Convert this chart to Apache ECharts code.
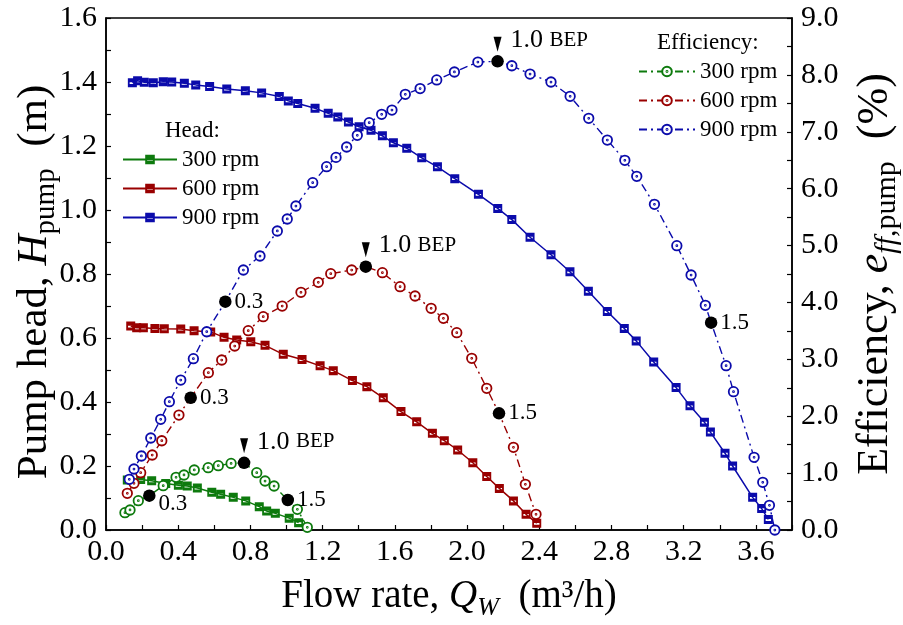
<!DOCTYPE html>
<html><head><meta charset="utf-8">
<script src="https://cdn.jsdelivr.net/npm/echarts@6/dist/echarts.min.js"></script>
<style>html,body{margin:0;padding:0;background:#fff}#c{width:903px;height:625px}</style>
</head><body><div id="c"></div>
<script>
// ---- Data ----
const q300H = [0.118,0.192,0.253,0.331,0.401,0.450,0.506,0.586,0.635,0.705,0.774,0.849,0.890,0.938,1.015,1.067];
const h300  = [0.156,0.158,0.154,0.145,0.140,0.1375,0.131,0.118,0.112,0.102,0.091,0.073,0.059,0.052,0.037,0.023];
const q600H = [0.137,0.170,0.207,0.271,0.323,0.414,0.488,0.580,0.654,0.724,0.802,0.881,0.982,1.086,1.186,1.259,1.365,1.445,1.536,1.634,1.721,1.808,1.874,1.948,2.032,2.109,2.179,2.257,2.327,2.386];
const h600  = [0.6375,0.632,0.632,0.630,0.629,0.628,0.623,0.619,0.602,0.594,0.588,0.577,0.549,0.533,0.513,0.498,0.467,0.448,0.413,0.370,0.338,0.302,0.279,0.250,0.210,0.167,0.130,0.091,0.049,0.021];
const q900H = [0.146,0.175,0.212,0.262,0.317,0.364,0.434,0.497,0.574,0.669,0.772,0.862,0.960,1.010,1.062,1.158,1.231,1.284,1.343,1.402,1.468,1.531,1.592,1.666,1.749,1.836,1.932,2.063,2.170,2.248,2.349,2.465,2.570,2.672,2.777,2.871,2.937,3.034,3.158,3.235,3.315,3.348,3.429,3.471,3.582,3.632,3.669];
const h900  = [1.398,1.404,1.399,1.398,1.401,1.400,1.396,1.391,1.386,1.378,1.373,1.366,1.355,1.341,1.333,1.318,1.302,1.291,1.275,1.260,1.249,1.232,1.210,1.193,1.163,1.135,1.098,1.049,1.005,0.970,0.915,0.860,0.807,0.746,0.683,0.630,0.591,0.525,0.445,0.388,0.337,0.306,0.240,0.200,0.102,0.067,0.033];

const q300E = [0.105,0.133,0.179,0.240,0.317,0.388,0.432,0.489,0.566,0.622,0.693,0.765,0.835,0.881,0.931,1.007,1.060,1.115];
const e300  = [0.304,0.352,0.515,0.603,0.779,0.926,0.967,1.055,1.095,1.130,1.170,1.180,1.007,0.861,0.773,0.527,0.364,0.047];
const q600E = [0.118,0.155,0.192,0.256,0.309,0.404,0.469,0.567,0.641,0.713,0.788,0.871,0.976,1.080,1.176,1.245,1.361,1.439,1.531,1.629,1.712,1.801,1.869,1.943,2.026,2.109,2.177,2.257,2.323,2.382];
const e600  = [0.645,0.821,1.007,1.318,1.569,2.021,2.325,2.765,2.988,3.234,3.503,3.749,3.937,4.178,4.353,4.505,4.570,4.629,4.523,4.277,4.113,3.897,3.721,3.468,3.018,2.491,2.051,1.454,0.803,0.276];
const q900E = [0.129,0.155,0.196,0.248,0.303,0.351,0.414,0.484,0.558,0.661,0.761,0.853,0.949,1.004,1.052,1.145,1.222,1.274,1.333,1.392,1.458,1.527,1.584,1.658,1.740,1.832,1.930,2.060,2.169,2.248,2.349,2.465,2.571,2.674,2.777,2.874,2.940,3.038,3.162,3.241,3.320,3.352,3.435,3.476,3.590,3.638,3.675,3.705];
const e900  = [0.891,1.072,1.301,1.617,1.945,2.255,2.636,3.011,3.485,4.013,4.570,4.816,5.256,5.467,5.695,6.105,6.387,6.550,6.732,6.938,7.160,7.306,7.382,7.658,7.760,7.911,8.051,8.226,8.238,8.161,8.015,7.875,7.623,7.236,6.855,6.498,6.217,5.725,4.998,4.482,3.950,3.644,2.888,2.431,1.278,0.838,0.434,0.0];

// key operating points (fraction of BEP flow)
const keyLabels = ['0.3','1.0 BEP','1.5'];
const keyQ300 = [0.240,0.765,1.007], keyE300 = [0.603,1.180,0.527];
const keyQ600 = [0.469,1.439,2.177], keyE600 = [2.325,4.629,2.051];
const keyQ900 = [0.661,2.169,3.352], keyE900 = [4.013,8.238,3.644];

const speeds = ['300','600','900'];
// ---- Build ----
const FONT = 'Liberation Serif';
const colors = {'300':'#0d7a0d','600':'#990000','900':'#0b0bab'};
const zip = (a,b) => a.map((v,i)=>[v,b[i]]);
const squareSym = 'path://M0,0H10V10H0Z M2,4.6V6.6H8V4.6Z';
const ringSym = 'path://M5,0A5,5 0 1,1 5,10A5,5 0 1,1 5,0Z M5,4.5A0.5,0.5 0 1,1 5,5.5A0.5,0.5 0 1,1 5,4.5Z';

const headData = {'300':zip(q300H,h300),'600':zip(q600H,h600),'900':zip(q900H,h900)};
const effData  = {'300':zip(q300E,e300),'600':zip(q600E,e600),'900':zip(q900E,e900)};
const keyData = [zip(keyQ300,keyE300), zip(keyQ600,keyE600), zip(keyQ900,keyE900)];

const series = [];
speeds.forEach(s=>{
  series.push({
    name:'H'+s, type:'line', xAxisIndex:0, yAxisIndex:0, data:headData[s],
    symbol:squareSym, symbolSize:9, showSymbol:true,
    itemStyle:{color:colors[s]},
    lineStyle:{color:colors[s], width:1.5},
    animation:false, z:3
  });
});
speeds.forEach(s=>{
  series.push({
    name:'E'+s, type:'line', xAxisIndex:0, yAxisIndex:1, data:effData[s],
    symbol:ringSym, symbolSize:9.5, showSymbol:true,
    itemStyle:{color:'#fff', borderColor:colors[s], borderWidth:1.8},
    lineStyle:{color:colors[s], width:1.4, type:[8,4,2,4]},
    animation:false, z:4
  });
});
// black dots with labels
const dotItems = [];
const bepItems = [];
keyData.forEach((arr,k)=>{
  arr.forEach((p,i)=>{
    const item = {value:p, name: i===1 ? '' : keyLabels[i]};
    if(k===0 && i===0) item.label = {offset:[0,8]};
    dotItems.push(item);
    if(i===1) bepItems.push({value:p, name:keyLabels[i]});
  });
});
series.push({
  name:'key', type:'scatter', xAxisIndex:0, yAxisIndex:1, data:dotItems,
  symbol:'circle', symbolSize:12.5, itemStyle:{color:'#000', opacity:1},
  label:{show:true, position:'right', distance:3, formatter:p=>p.name,
    fontFamily:FONT, fontSize:23, color:'#000'},
  animation:false, z:10, silent:true
});
series.push({
  name:'bep', type:'scatter', xAxisIndex:0, yAxisIndex:1, data:bepItems,
  symbol:'path://M0,0L10,0L5,18Z', symbolSize:[8,15], symbolOffset:[0,-17],
  itemStyle:{color:'#000', opacity:1},
  label:{show:true, position:'right', distance:9, offset:[0,-4],
    formatter:()=>'{a|1.0} {b|BEP}',
    rich:{a:{fontFamily:FONT, fontSize:26, color:'#000'}, b:{fontFamily:FONT, fontSize:21, color:'#000', padding:[0,0,0,3]}}},
  animation:false, z:10, silent:true
});

const tickLabel = {fontFamily:FONT, fontSize:30, color:'#000'};
const mkRich = (big, small) => ({
  n:{fontFamily:FONT, fontSize:big, color:'#000', lineHeight:big+10},
  i:{fontFamily:FONT, fontSize:big, fontStyle:'italic', color:'#000', lineHeight:big+10},
  s:{fontFamily:FONT, fontSize:small, color:'#000', lineHeight:small, verticalAlign:'bottom'},
  si:{fontFamily:FONT, fontSize:small, fontStyle:'italic', color:'#000', lineHeight:small, verticalAlign:'bottom'}
});

const option = {
  animation:false,
  backgroundColor:'#fff',
  grid:{left:106, right:111, top:18, bottom:95, containLabel:false, outerBoundsMode:'none',
    show:true, borderColor:'#000', borderWidth:1.5, backgroundColor:'transparent'},
  xAxis:[{
    type:'value', min:0, max:3.8, interval:0.2,
    axisLine:{show:true, onZero:false, lineStyle:{color:'#000', width:1.5}},
    axisTick:{show:true, inside:true, length:5, lineStyle:{color:'#000', width:1.2}},
    axisLabel:{...tickLabel, margin:7, formatter:v=>(Math.round(v*10)%4===0 ? v.toFixed(1) : '')},
    splitLine:{show:false},
    name:'{n|Flow rate, }{i|Q}{si|W}{n|  (m³/h)}', nameLocation:'middle', nameGap:42,
    nameTextStyle:{rich:mkRich(39,26)}
  }],
  yAxis:[{
    type:'value', min:0, max:1.6, interval:0.1, position:'left',
    axisLine:{show:true, onZero:false, lineStyle:{color:'#000', width:1.5}},
    axisTick:{show:true, inside:true, length:5, lineStyle:{color:'#000', width:1.2}},
    axisLabel:{...tickLabel, margin:9, formatter:v=>(Math.round(v*10)%2===0 ? v.toFixed(1) : '')},
    splitLine:{show:false},
    name:'{n|Pump head, }{i|H}{s|pump}{n|  (m)}', nameLocation:'middle', nameGap:45, nameRotate:90,
    nameMoveOverlap:false,
    nameTextStyle:{rich:mkRich(43,29), padding:[0,16,0,0]}
  },{
    type:'value', min:0, max:9, interval:0.5, position:'right',
    axisLine:{show:true, onZero:false, lineStyle:{color:'#000', width:1.5}},
    axisTick:{show:true, inside:true, length:5, lineStyle:{color:'#000', width:1.2}},
    axisLabel:{...tickLabel, margin:9, formatter:v=>(Math.abs(v-Math.round(v))<1e-6 ? v.toFixed(1) : '')},
    splitLine:{show:false},
    name:'{n|Efficiency, }{i|e}{si|ff}{s|,pump}{n|  (%)}', nameLocation:'middle', nameGap:56, nameRotate:90,
    nameTextStyle:{rich:mkRich(44,30)}
  }],
  legend:[{
    data:['H300','H600','H900'], orient:'vertical', left:122, top:148, padding:0,
    itemWidth:54, itemHeight:12, itemGap:6, selectedMode:false,
    formatter:n=>n.slice(1)+' rpm',
    textStyle:{fontFamily:FONT, fontSize:23, color:'#000'}
  },{
    data:['E300','E600','E900'], orient:'vertical', left:638, top:60, padding:0,
    itemWidth:56, itemHeight:12, itemGap:6, selectedMode:false,
    formatter:n=>n.slice(1)+' rpm',
    textStyle:{fontFamily:FONT, fontSize:23, color:'#000'}
  }],
  graphic:[
    {type:'text', left:165, top:119, style:{text:'Head:', font:'23px "Liberation Serif"', fill:'#000'}},
    {type:'text', left:657, top:31, style:{text:'Efficiency:', font:'23px "Liberation Serif"', fill:'#000'}}
  ],
  series
};
const chart = echarts.init(document.getElementById('c'), null, {renderer:'canvas'});
chart.setOption(option);
</script></body></html>
